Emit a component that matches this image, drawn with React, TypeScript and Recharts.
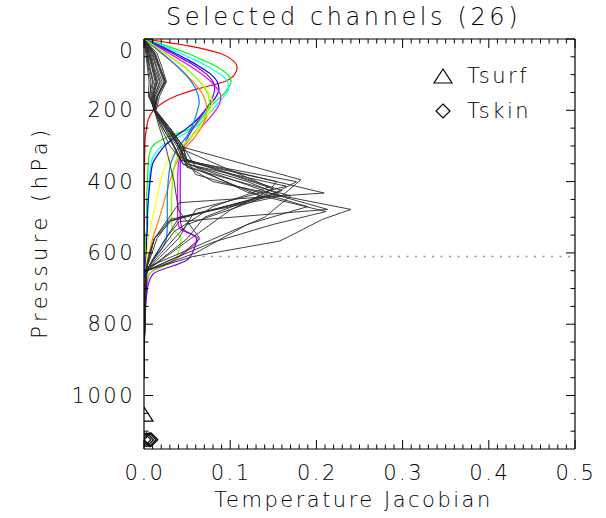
import React from 'react';
import { ComposedChart, Line, Scatter, XAxis, YAxis, ReferenceLine, Legend } from 'recharts';

type Pt = [number, number]; // [pressure hPa, jacobian]

const FONT = '"DejaVu Sans", sans-serif';
const TITLE = 'Selected channels (26)';
const X_TITLE = 'Temperature Jacobian';
const Y_TITLE = 'Pressure (hPa)';

const X_TICKS = Array.from({ length: 51 }, (_, i) => i / 100);
const Y_TICKS = Array.from({ length: 23 }, (_, i) => i * 50);

// smooth (fine-level) channels share one pressure grid
const COLOR_P = [0, 20, 40, 60, 80, 100, 120, 140, 160, 180, 200, 225, 250, 275, 300, 325, 350, 400, 450, 500, 530, 560, 590, 620, 660, 700, 800, 950];
const COLOR_NAMES = ['#ff0000', '#00ff00', '#00ffff', '#0000ff', '#ff00ff', '#8000ff', '#ffff00', '#ff8000', '#0080ff', '#80ff00'];
const cRed = [0, .053, .088, .103, .108, .105, .093, .062, .037, .021, .011, .005, .003, .0015, .001, .0008, .0006, .0005, .0004, .0004, .0004, .0004, .0003, .0003, .0002, .0001, 0, 0];
const cGreen = [0, .027, .050, .069, .086, .097, .101, .097, .090, .081, .074, .066, .055, .027, .010, .006, .005, .004, .003, .003, .003, .002, .002, .002, .001, .001, .0005, 0];
const cCyan = [0, .022, .042, .060, .076, .089, .097, .098, .093, .086, .079, .070, .058, .040, .021, .012, .008, .006, .005, .004, .004, .003, .003, .002, .001, .001, .0005, 0];
const cBlue = [0, .019, .036, .052, .066, .078, .085, .087, .084, .078, .071, .062, .050, .036, .024, .016, .010, .007, .005, .004, .004, .003, .003, .002, .001, .001, .0005, 0];
const cMagenta = [0, .015, .029, .043, .056, .068, .078, .085, .089, .088, .083, .075, .065, .055, .047, .042, .040, .039, .039, .039, .041, .063, .052, .035, .006, .003, .001, 0];
const cPurple = [0, .017, .033, .048, .062, .073, .080, .082, .080, .076, .071, .064, .057, .051, .046, .043, .042, .042, .042, .042, .044, .061, .058, .050, .010, .004, .001, 0];
const cYellow = [0, .012, .024, .036, .047, .057, .065, .072, .077, .079, .077, .072, .065, .055, .043, .033, .026, .019, .015, .010, .008, .005, .004, .003, .002, .001, .0005, 0];
const cOrange = [0, .010, .020, .030, .040, .049, .057, .064, .069, .072, .073, .071, .066, .059, .050, .043, .037, .030, .024, .018, .014, .010, .007, .005, .002, .001, .0005, 0];
const cDodger = [0, .011, .021, .031, .040, .048, .055, .060, .063, .064, .062, .059, .055, .049, .041, .035, .031, .028, .027, .027, .027, .026, .020, .010, .003, .001, .0005, 0];
const cLime = [0, .013, .025, .037, .048, .057, .065, .071, .075, .076, .074, .069, .062, .054, .046, .040, .036, .033, .032, .032, .033, .043, .041, .036, .006, .002, .0005, 0];
const COLOR_VALUES = [cRed, cGreen, cCyan, cBlue, cMagenta, cPurple, cYellow, cOrange, cDodger, cLime];

// coarse-level channels (black)
const k01: Pt[] = [[0, 0], [40, .004], [80, .006], [120, .010], [160, .006], [200, .012], [250, .024], [300, .038], [340, .045], [400, .177], [435, .150], [510, .032], [560, .012], [610, .005], [650, .002], [750, .001], [950, 0]];
const k02: Pt[] = [[0, 0], [40, .013], [80, .019], [120, .025], [160, .015], [200, .012], [250, .022], [300, .034], [340, .042], [400, .154], [440, .140], [510, .030], [560, .015], [650, .002], [750, .001], [950, 0]];
const k03: Pt[] = [[0, 0], [40, .002], [80, .004], [120, .006], [160, .005], [200, .013], [250, .028], [300, .042], [350, .048], [413, .165], [478, .060], [560, .040], [650, .003], [750, .001], [950, 0]];
const k04: Pt[] = [[0, 0], [40, .015], [80, .021], [120, .026], [160, .018], [200, .014], [250, .030], [300, .045], [350, .050], [400, .120], [436, .157], [500, .041], [560, .025], [610, .012], [650, .003], [750, .001], [950, 0]];
const k05: Pt[] = [[0, 0], [40, .009], [80, .014], [120, .019], [160, .012], [200, .011], [250, .026], [300, .040], [340, .050], [432, .209], [459, .041], [560, .012], [650, .002], [750, .001], [950, 0]];
const k06: Pt[] = [[0, 0], [40, .003], [80, .005], [120, .008], [160, .007], [200, .012], [250, .022], [300, .035], [350, .045], [400, .080], [440, .160], [478, .240], [506, .207], [553, .169], [567, .157], [610, .057], [650, .003], [750, .001], [950, 0]];
const k07: Pt[] = [[0, 0], [40, .011], [80, .017], [120, .023], [160, .015], [200, .012], [250, .027], [300, .040], [350, .050], [435, .150], [478, .213], [512, .041], [560, .025], [650, .003], [750, .001], [950, 0]];
const k08: Pt[] = [[0, 0], [40, .006], [80, .010], [120, .014], [160, .010], [200, .013], [250, .030], [300, .045], [340, .050], [420, .150], [480, .100], [562, .053], [650, .003], [750, .001], [950, 0]];
const k09: Pt[] = [[0, 0], [40, .012], [80, .018], [120, .024], [160, .016], [200, .012], [250, .020], [300, .030], [330, .040], [425, .160], [470, .110], [520, .050], [600, .020], [650, .002], [750, .001], [950, 0]];
const k10: Pt[] = [[0, 0], [40, .005], [80, .009], [120, .013], [160, .009], [200, .011], [250, .030], [300, .040], [395, .182], [440, .160], [506, .030], [560, .012], [650, .002], [750, .001], [950, 0]];
const k11: Pt[] = [[0, 0], [40, .010], [80, .015], [120, .021], [160, .013], [200, .013], [250, .025], [300, .035], [350, .045], [440, .135], [500, .070], [560, .050], [650, .003], [750, .001], [950, 0]];
const k12: Pt[] = [[0, 0], [40, .008], [80, .012], [120, .018], [160, .012], [200, .012], [250, .026], [300, .040], [380, .060], [470, .190], [520, .120], [600, .060], [650, .003], [750, .001], [950, 0]];
const k13: Pt[] = [[0, 0], [40, .004], [80, .007], [120, .011], [160, .008], [200, .012], [250, .030], [310, .045], [415, .145], [470, .080], [540, .035], [650, .002], [750, .001], [950, 0]];
const k14: Pt[] = [[0, 0], [40, .007], [80, .011], [120, .016], [160, .010], [200, .012], [250, .018], [300, .025], [400, .035], [480, .040], [560, .065], [610, .040], [650, .003], [750, .001], [950, 0]];
const k15: Pt[] = [[0, 0], [40, .012], [80, .018], [120, .025], [160, .016], [200, .013], [250, .028], [300, .040], [360, .050], [440, .170], [500, .140], [553, .088], [640, .004], [750, .001], [950, 0]];
const k16: Pt[] = [[0, 0], [40, .006], [80, .010], [120, .015], [160, .011], [200, .012], [250, .030], [300, .045], [360, .060], [430, .120], [484, .211], [520, .150], [570, .080], [620, .030], [650, .003], [750, .001], [950, 0]];
const BLACK = [k01, k02, k03, k04, k05, k06, k07, k08, k09, k10, k11, k12, k13, k14, k15, k16];

const TSURF: Pt[] = [[1055, 0.0]];
const TSKIN: Pt[] = [[1124, 0.0], [1124, 0.003], [1124, 0.006], [1124, 0.008]];
const CUTOFF_P = 610;
const CUTOFF_X = [0.058, 0.5];

const toRows = (pts: Pt[]) => pts.map(([p, x]) => ({ p, x }));
const colorRows = COLOR_VALUES.map(vals => vals.map((x, i) => ({ p: COLOR_P[i], x })));

const txt = { fontFamily: FONT, fontSize: 21, fontWeight: 200, letterSpacing: 2.5, fill: '#000' };

function BottomTick({ x, y, payload }: any) {
  const v = payload.value;
  const major = Math.round(v * 100) % 10 === 0;
  return (
    <g>
      <line x1={x} y1={y} x2={x} y2={y - (major ? 9 : 4.5)} stroke="#000" />
      {major && (
        <text x={x + 1} y={y + 24} textAnchor="middle" dominantBaseline="central" {...txt}>{v.toFixed(1)}</text>
      )}
    </g>
  );
}

function TopTick({ x, y, payload }: any) {
  const major = Math.round(payload.value * 100) % 10 === 0;
  return <line x1={x} y1={y} x2={x} y2={y + (major ? 9 : 4.5)} stroke="#000" />;
}

function LeftTick({ x, y, payload }: any) {
  const v = payload.value;
  const major = v % 200 === 0;
  return (
    <g>
      <line x1={x} y1={y} x2={x + (major ? 9 : 4.5)} y2={y} stroke="#000" />
      {major && (
        <text x={x - 9} y={v === 0 ? y + 12 : y} textAnchor="end" dominantBaseline="central" {...txt}>{v}</text>
      )}
    </g>
  );
}

function RightTick({ x, y, payload }: any) {
  const major = payload.value % 200 === 0;
  return <line x1={x} y1={y} x2={x - (major ? 9 : 4.5)} y2={y} stroke="#000" />;
}

const triangle = ({ cx, cy }: any) => (
  <polygon points={`${cx},${cy - 8} ${cx + 9},${cy + 6} ${cx - 9},${cy + 6}`} fill="none" stroke="#000" strokeWidth={1.2} />
);
const diamond = ({ cx, cy }: any) => (
  <polygon points={`${cx},${cy - 7} ${cx + 7},${cy} ${cx},${cy + 7} ${cx - 7},${cy}`} fill="none" stroke="#000" strokeWidth={1.2} />
);

const LEGEND_ITEMS = ['Tsurf', 'Tskin'];

const renderLegend = () => (
  <div style={{ fontFamily: FONT, fontSize: 21, fontWeight: 200, letterSpacing: 2.5, color: '#000' }}>
    {LEGEND_ITEMS.map((name, i) => (
      <div key={name} style={{ display: 'flex', alignItems: 'center', height: 35 }}>
        <svg width={20} height={20} style={{ overflow: 'visible' }}>
          {i === 0
            ? <polygon points="10,3 19,17 1,17" fill="none" stroke="#000" strokeWidth={1.2} />
            : <polygon points="10,3 17,10 10,17 3,10" fill="none" stroke="#000" strokeWidth={1.2} />}
        </svg>
        <span style={{ marginLeft: 14 }}>{name}</span>
      </div>
    ))}
  </div>
);

const axisLine = { stroke: '#000', strokeWidth: 1.2 };

export default function App() {
  return (
    <div style={{ position: 'absolute', left: 0, top: 0, width: 606, height: 518, background: '#fff' }}>
      <ComposedChart width={606} height={518} layout="vertical" margin={{ top: 29, right: 21, bottom: 39, left: 84 }}>
        <XAxis
          xAxisId="bottom" orientation="bottom" type="number" dataKey="x" domain={[0, 0.5]} allowDataOverflow
          ticks={X_TICKS} interval={0} height={30} tickSize={0} tickMargin={0} tickLine={false}
          tick={<BottomTick />} axisLine={axisLine}
          label={{ content: ({ viewBox }: any) => (
            <text x={viewBox.x + viewBox.width / 2 - 6} y={viewBox.y + 51} textAnchor="middle" dominantBaseline="central" {...txt}>{X_TITLE}</text>
          ) }}
        />
        <XAxis
          xAxisId="top" orientation="top" type="number" dataKey="x" domain={[0, 0.5]} allowDataOverflow
          ticks={X_TICKS} interval={0} height={10} tickSize={0} tickMargin={0} tickLine={false}
          tick={<TopTick />} axisLine={axisLine}
          label={{ content: ({ viewBox }: any) => (
            <text x={viewBox.x + viewBox.width / 2 - 16} y={viewBox.y + viewBox.height - 22} textAnchor="middle" dominantBaseline="central" {...txt} fontSize={24} letterSpacing={3.6}>{TITLE}</text>
          ) }}
        />
        <YAxis
          yAxisId="left" orientation="left" type="number" dataKey="p" domain={[0, 1150]} allowDataOverflow
          ticks={Y_TICKS} interval={0} width={60} tickSize={0} tickMargin={0} tickLine={false}
          tick={<LeftTick />} axisLine={axisLine}
          label={{ content: ({ viewBox }: any) => {
            const cx = viewBox.x + viewBox.width - 104;
            const cy = viewBox.y + viewBox.height / 2 - 12;
            return <text x={cx} y={cy} transform={`rotate(-90 ${cx} ${cy})`} textAnchor="middle" dominantBaseline="central" {...txt} letterSpacing={4.5}>{Y_TITLE}</text>;
          } }}
        />
        <YAxis
          yAxisId="right" orientation="right" type="number" dataKey="p" domain={[0, 1150]} allowDataOverflow
          ticks={Y_TICKS} interval={0} width={10} tickSize={0} tickMargin={0} tickLine={false}
          tick={<RightTick />} axisLine={axisLine}
        />
        <ReferenceLine
          xAxisId="bottom" yAxisId="left"
          segment={[{ x: CUTOFF_X[0], y: CUTOFF_P }, { x: CUTOFF_X[1], y: CUTOFF_P }]}
          stroke="#999" strokeWidth={1.6} strokeDasharray="2 6.5"
        />
        {colorRows.map((rows, i) => (
          <Line key={`c${i}`} xAxisId="bottom" yAxisId="left" data={rows} dataKey="x" type="monotone" stroke={COLOR_NAMES[i]} strokeWidth={1.2} dot={false} activeDot={false} isAnimationActive={false} />
        ))}
        {BLACK.map((pts, i) => (
          <Line key={`k${i}`} xAxisId="bottom" yAxisId="left" data={toRows(pts)} dataKey="x" type="linear" stroke="#2a2a2a" strokeWidth={0.9} dot={false} activeDot={false} isAnimationActive={false} />
        ))}
        <Scatter xAxisId="bottom" yAxisId="left" data={toRows(TSURF)} shape={triangle} isAnimationActive={false} />
        <Scatter xAxisId="bottom" yAxisId="left" data={toRows(TSKIN)} shape={diamond} isAnimationActive={false} />
        <Legend
          layout="vertical" align="center" verticalAlign="middle" content={renderLegend}
          wrapperStyle={{ left: 433, top: 58, width: 130 }}
        />
      </ComposedChart>
    </div>
  );
}
